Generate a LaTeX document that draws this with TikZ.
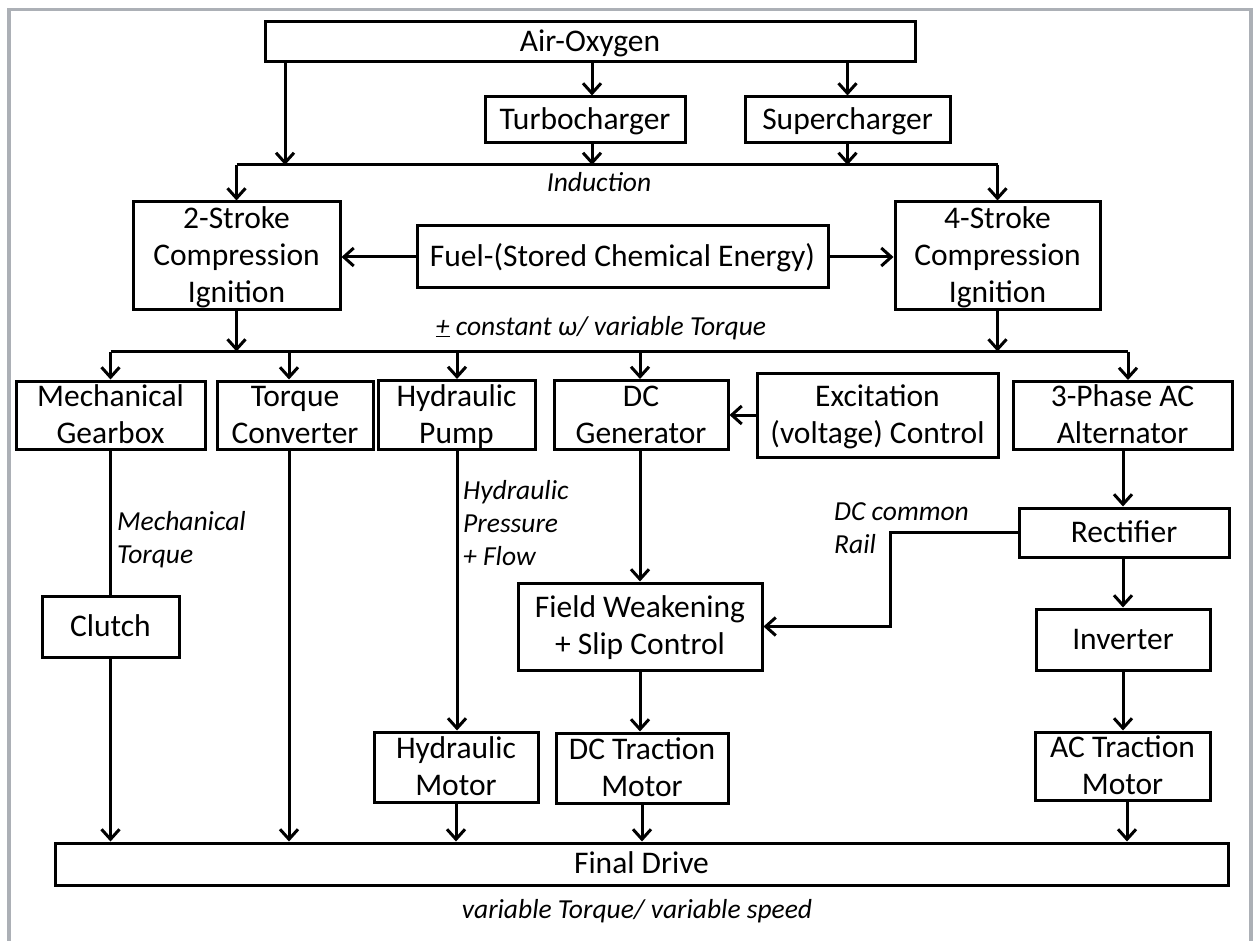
\documentclass[tikz,border=0pt]{standalone}
\usepackage{fontspec}
\setmainfont{Carlito}
\usetikzlibrary{arrows.meta}
\definecolor{framegray}{RGB}{172,176,182}
\begin{document}
\begin{tikzpicture}[x=1pt,y=-1pt,
  box/.style={draw, line width=3pt, inner sep=0pt, align=center, font=\fontsize{31.5}{37}\selectfont,
    text height=25pt, text depth=6pt},
  two/.style={text height=62pt},
  three/.style={text height=99pt},
  lab/.style={inner sep=0pt, align=left, font=\fontsize{27.5}{33}\selectfont\itshape},
  ln/.style={line width=3pt},
  arr/.style={line width=3pt, -{Straight Barb[length=10pt,width=18pt]}}]
\useasboundingbox (0,0) rectangle (1253,941);
\draw[draw=framegray, line width=3.5pt] (9,945) -- (9,9.5) -- (1251,9.5) -- (1251,945);

\node[box,minimum width=650pt,minimum height=40pt] (air) at (590,42) {Air-Oxygen};
\node[box,minimum width=200pt,minimum height=46pt] (turbo) at (585,120) {Turbocharger};
\node[box,minimum width=205pt,minimum height=46pt] (super) at (847.5,120) {Supercharger};
\node[box,three,minimum width=207pt,minimum height=108pt] (s2) at (236.5,256) {2-Stroke\\Compression\\Ignition};
\node[box,three,minimum width=205pt,minimum height=108pt] (s4) at (997.5,256) {4-Stroke\\Compression\\Ignition};
\node[box,minimum width=411pt,minimum height=62pt] (fuel) at (622.5,257) {Fuel-(Stored Chemical Energy)};
\node[box,two,minimum width=189pt,minimum height=68pt] (mech) at (110.5,415) {Mechanical\\Gearbox};
\node[box,two,minimum width=156pt,minimum height=68pt] (torq) at (295,415) {Torque\\Converter};
\node[box,two,minimum width=157pt,minimum height=69pt] (hpump) at (456.5,415) {Hydraulic\\Pump};
\node[box,two,minimum width=174pt,minimum height=69pt] (dcgen) at (641,415) {DC\\Generator};
\node[box,two,minimum width=241pt,minimum height=84pt] (excit) at (877.5,415) {Excitation\\(voltage) Control};
\node[box,two,minimum width=219pt,minimum height=67pt] (alt) at (1122.5,415.5) {3-Phase AC\\Alternator};
\node[box,minimum width=137pt,minimum height=61pt] (clutch) at (110.5,626.5) {Clutch};
\node[box,two,minimum width=244pt,minimum height=87pt] (fw) at (640,626.5) {Field Weakening\\+ Slip Control};
\node[box,minimum width=210pt,minimum height=49pt] (rect) at (1124,532.5) {Rectifier};
\node[box,minimum width=174pt,minimum height=61pt] (inv) at (1123,639.5) {Inverter};
\node[box,two,minimum width=164pt,minimum height=70pt] (hmot) at (456,767) {Hydraulic\\Motor};
\node[box,two,minimum width=172pt,minimum height=70pt] (dcmot) at (642,768) {DC Traction\\Motor};
\node[box,two,minimum width=175pt,minimum height=68pt] (acmot) at (1122.5,766) {AC Traction\\Motor};
\node[box,minimum width=1173pt,minimum height=42pt] (final) at (641.5,864) {Final Drive};

\coordinate (ibL) at (236.5,165);
\coordinate (ibR) at (997.5,165);
\coordinate (ob) at (0,351.5);

% induction bus
\draw[ln] (ibL) -- (ibR);
\draw[arr] (ibL) -- (s2.north);
\draw[arr] (ibR) -- (s4.north);
\draw[arr] (air.south -| 285,0) -- (ibL -| 285,0);
\draw[arr] (air.south -| 592,0) -- (turbo.north -| 592,0);
\draw[arr] (air.south -| super) -- (super.north);
\draw[arr] (turbo.south -| 592,0) -- (ibL -| 592,0);
\draw[arr] (super.south) -- (ibL -| super);

% fuel
\draw[arr] (fuel.west) -- (s2.east |- fuel.west);
\draw[arr] (fuel.east) -- (s4.west |- fuel.east);

% output bus
\draw[ln] (ob -| mech) -- (ob -| 1128,0);
\draw[arr] (s2.south) -- (s2.south |- ob);
\draw[arr] (s4.south) -- (s4.south |- ob);
\draw[arr] (ob -| mech) -- (mech.north);
\draw[arr] (ob -| 289,0) -- (torq.north -| 289,0);
\draw[arr] (ob -| 457,0) -- (hpump.north -| 457,0);
\draw[arr] (ob -| 640,0) -- (dcgen.north -| 640,0);
\draw[arr] (ob -| 1128,0) -- (alt.north -| 1128,0);

\draw[arr] (excit.west) -- (dcgen.east);
\draw[ln] (mech.south) -- (clutch.north);
\draw[arr] (clutch.south) -- (final.north -| clutch.south);
\draw[arr] (torq.south -| 289,0) -- (final.north -| 289,0);
\draw[arr] (hpump.south -| 457,0) -- (hmot.north -| 457,0);
\draw[arr] (hmot.south) -- (final.north -| hmot.south);
\draw[arr] (dcgen.south -| 640,0) -- (fw.north);
\draw[arr] (fw.south) -- (dcmot.north -| fw.south);
\draw[arr] (dcmot.south) -- (final.north -| dcmot.south);
\draw[arr] (alt.south -| 1123,0) -- (rect.north -| 1123,0);
\draw[arr] (rect.south -| 1123,0) -- (inv.north -| 1123,0);
\draw[arr] (inv.south) -- (acmot.north -| inv.south);
\draw[arr] (acmot.south -| 1127,0) -- (final.north -| 1127,0);
\draw[arr] (rect.west) -- (rect.west -| 890,0) |- (fw.east);

% labels (base anchor = baseline of last line)
\node[lab, anchor=base] (ind) at (599,192) {Induction};
\node[lab, anchor=base] (omega) at (601,335) {\underline{+} constant ω/ variable Torque};
\node[lab, anchor=base west] (mt) at (117,563) {Mechanical\\Torque};
\node[lab, anchor=base west] (hp) at (463,565) {Hydraulic\\Pressure\\+ Flow};
\node[lab, anchor=base west] (dcr) at (834,553) {DC common\\Rail};
\node[lab, anchor=base] (vt) at (637,918) {variable Torque/ variable speed};
\end{tikzpicture}
\end{document}
